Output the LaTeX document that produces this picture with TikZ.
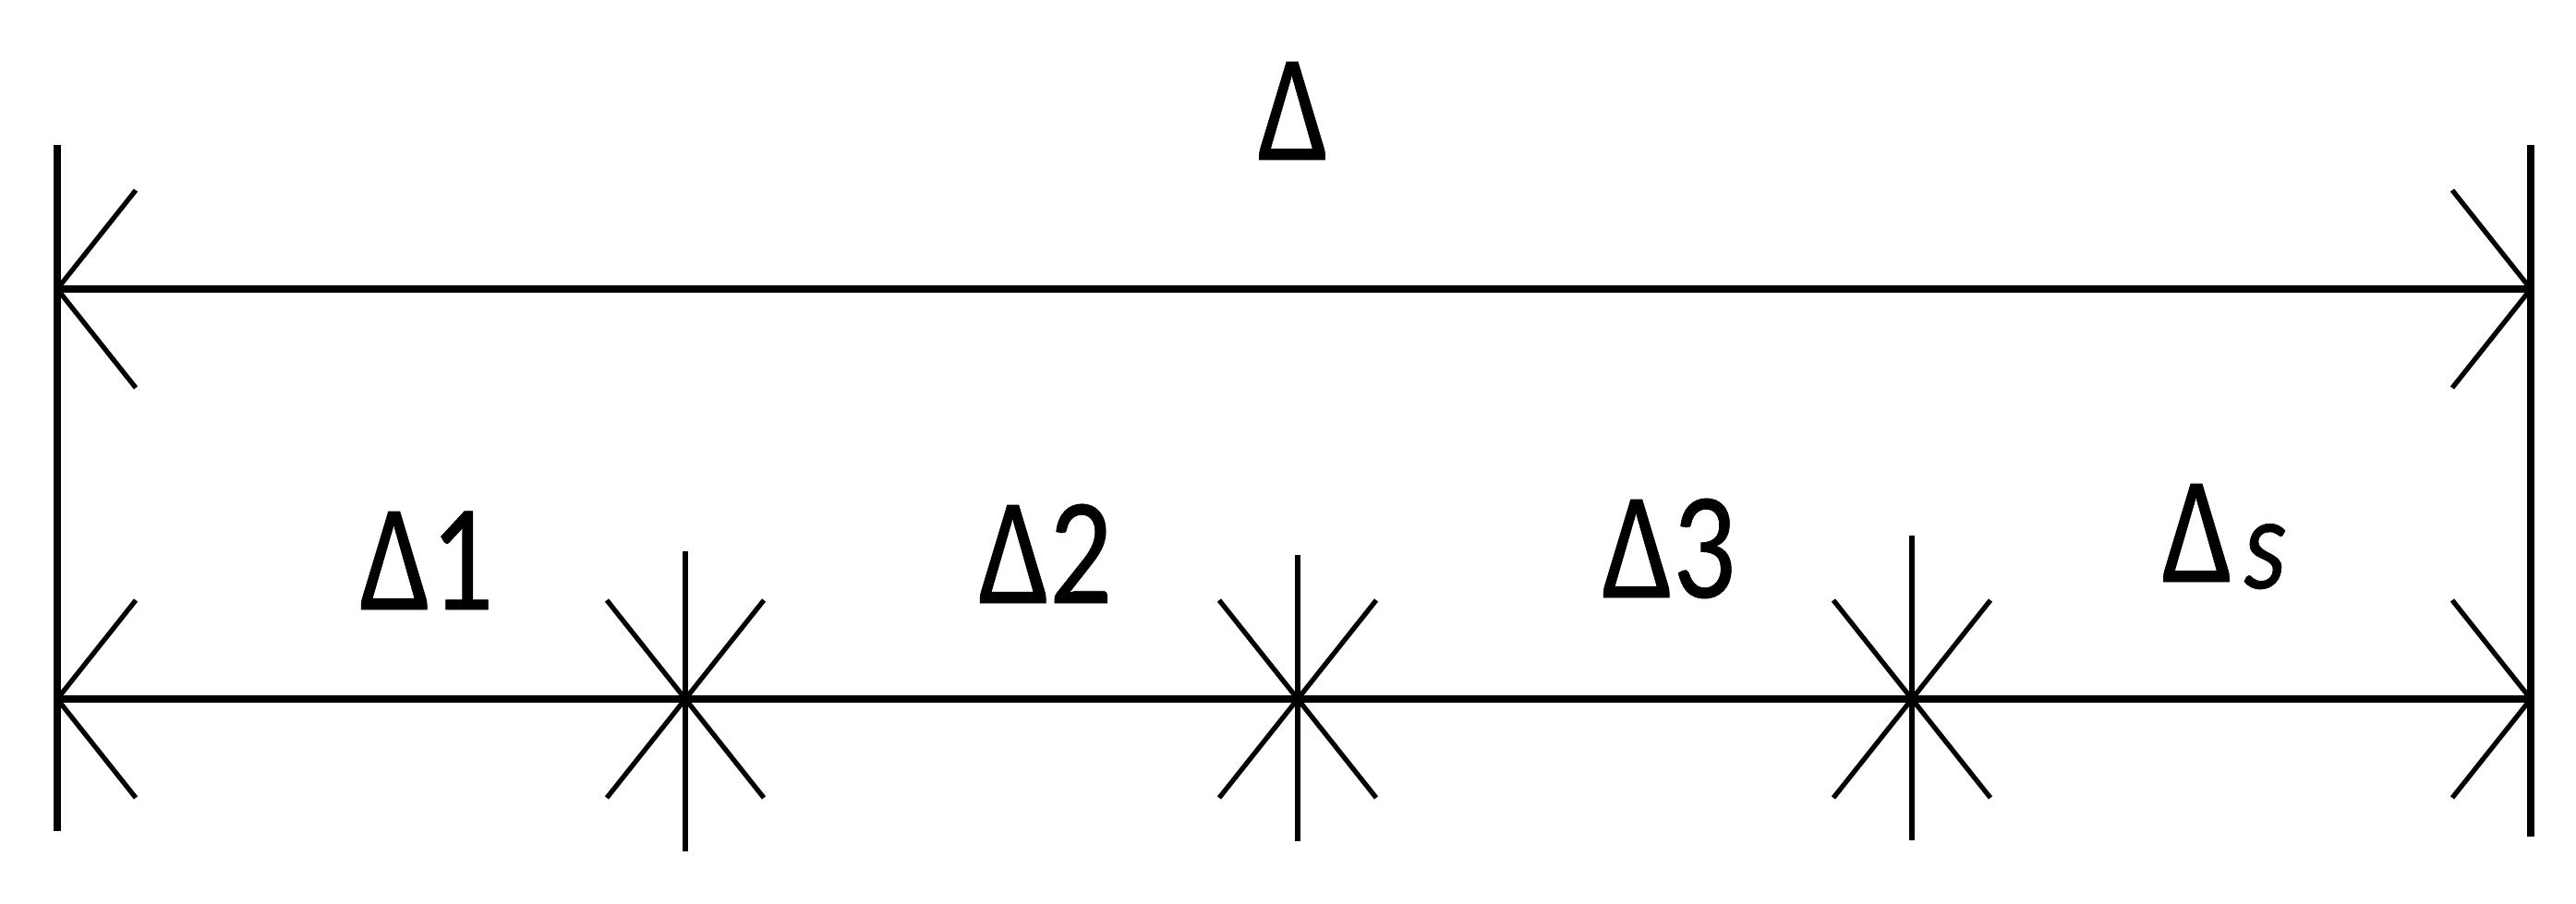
\documentclass[tikz,border=0pt]{standalone}
\usepackage{fontspec}
\setmainfont{Carlito}[FakeStretch=0.82, FakeBold=0.4]
\usepackage{tikz}
\usetikzlibrary{calc, positioning}
\newcommand{\drawv}{\draw[line width=2.2pt]}
\newcommand{\drawh}{\draw[line width=2pt]}
\newcommand{\drawa}{\draw[line width=1.5pt]}
\tikzset{
  dimlabel/.style={anchor=base, inner sep=0pt, font=\fontsize{47}{50}\selectfont},
  joint/.style={fill=black}
}

\begin{document}
\begin{tikzpicture}
\useasboundingbox (0,0) rectangle (27.89,9.78);
% Các điểm chính
\coordinate (TL) at (0.62,6.65);
\coordinate (TR) at (27.40,6.65);
\coordinate (BL) at (0.62,2.21);
\coordinate (BR) at (27.40,2.21);
\coordinate (K1) at (7.42,2.21);
\coordinate (K2) at (14.05,2.21);
\coordinate (K3) at (20.70,2.21);

% Vẽ hai đường biên
\drawv (0.62,8.21) -- (0.62,0.78);
\drawv (27.40,8.21) -- (27.40,0.72);

% Vẽ kích thước tổng
\drawh (TL) -- (TR);
\drawa ($(TL)+(0.85,1.07)$) -- (TL) -- ($(TL)+(0.85,-1.07)$);
\drawa ($(TR)+(-0.85,1.07)$) -- (TR) -- ($(TR)+(-0.85,-1.07)$);
\fill[joint] (TL) circle (0.04);
\fill[joint] (TR) circle (0.04);
\node[dimlabel] (D) at (14.00,8.05) {Δ};

% Vẽ các đoạn con
\drawh (BL) -- (BR);
\drawa ($(BL)+(0.85,1.07)$) -- (BL) -- ($(BL)+(0.85,-1.07)$);
\drawa ($(BR)+(-0.85,1.07)$) -- (BR) -- ($(BR)+(-0.85,-1.07)$);
\fill[joint] (BL) circle (0.04);
\fill[joint] (BR) circle (0.04);

\draw[line width=1.8pt] (7.42,3.81) -- (7.42,0.56);
\draw[line width=1.8pt] (14.05,3.77) -- (14.05,0.67);
\draw[line width=1.8pt] (20.70,3.98) -- (20.70,0.68);
\foreach \k in {K1,K2,K3} {
  \drawa ($(\k)+(-0.85,1.07)$) -- ($(\k)+(0.85,-1.07)$);
  \drawa ($(\k)+(-0.85,-1.07)$) -- ($(\k)+(0.85,1.07)$);
  \fill[joint] (\k) circle (0.05);
}

\node[dimlabel] (D1) at (4.62,3.18) {Δ1};
\node[dimlabel] (D2) at (11.32,3.25) {Δ2};
\node[dimlabel] (D3) at (18.07,3.31) {Δ3};
\node[dimlabel, anchor=base west] (Ds) at (23.40,3.48) {Δ\kern0.12cm\raisebox{-0.07cm}{\fontsize{41}{44}\selectfont\itshape s}};

\end{tikzpicture}
\end{document}
